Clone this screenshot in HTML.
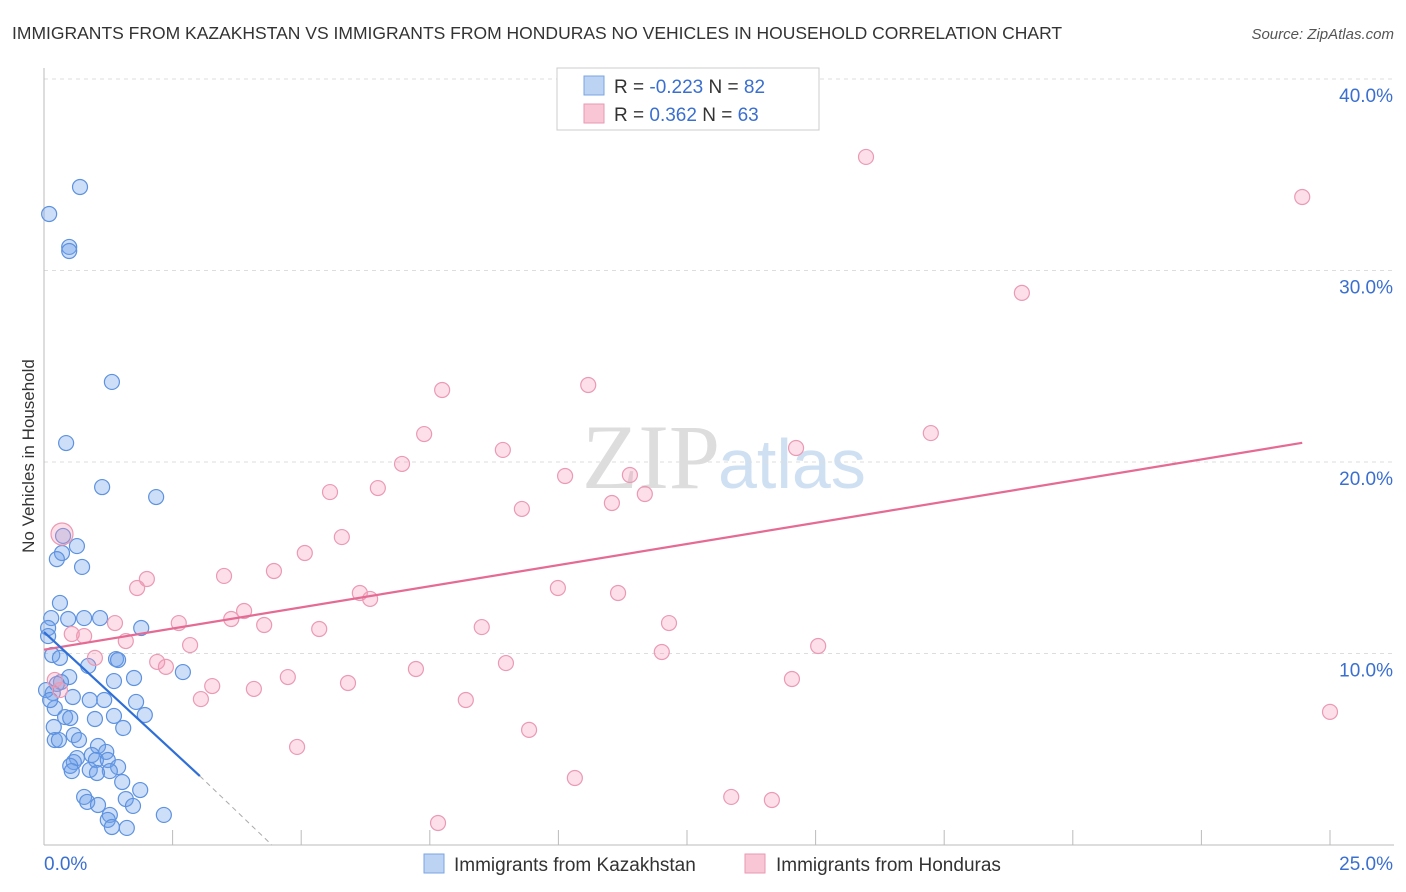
<!DOCTYPE html>
<html><head><meta charset="utf-8"><style>
body{margin:0;background:#fff;font-family:"Liberation Sans",sans-serif}
#c{position:absolute;left:0;top:0}
</style></head><body>
<svg id="c" width="1406" height="892">
<text x="12" y="39" font-size="17.5" fill="#333">IMMIGRANTS FROM KAZAKHSTAN VS IMMIGRANTS FROM HONDURAS NO VEHICLES IN HOUSEHOLD CORRELATION CHART</text>
<text x="1394" y="39" font-size="15" fill="#555" font-style="italic" text-anchor="end">Source: ZipAtlas.com</text>
<text x="34" y="456" font-size="17" fill="#333" text-anchor="middle" transform="rotate(-90 34 456)">No Vehicles in Household</text>
<text x="720" y="488" font-size="92" fill="#ddd" text-anchor="end" font-family="Liberation Serif">ZIP</text>
<text x="718" y="488" font-size="70" fill="#cfe0f3">atlas</text>
<g id="grid"></g><g id="pts"></g><g id="lines"></g>
<g>
<rect x="557" y="68" width="262" height="62" fill="#fff" stroke="#ccc"/>
<rect x="584" y="76" width="20" height="19" fill="#bcd3f3" stroke="#7aa4e0"/>
<rect x="584" y="104" width="20" height="19" fill="#f8c6d5" stroke="#e999b3"/>
<text x="614" y="93" font-size="19" fill="#333">R = <tspan fill="#3a6fd0">-0.223</tspan>   N = <tspan fill="#3a6fd0">82</tspan></text>
<text x="614" y="121" font-size="19" fill="#333">R =  <tspan fill="#3a6fd0">0.362</tspan>   N = <tspan fill="#3a6fd0">63</tspan></text>
</g>
<g>
<rect x="424" y="854" width="20" height="19" fill="#bcd3f3" stroke="#7aa4e0"/>
<text x="454" y="871" font-size="19" fill="#333">Immigrants from Kazakhstan</text>
<rect x="745" y="854" width="20" height="19" fill="#f8c6d5" stroke="#e999b3"/>
<text x="776" y="871" font-size="19" fill="#333">Immigrants from Honduras</text>
</g>
</svg>
<script>
const xTickLabels=["0.0%","25.0%"];
const yTicks=[10,20,30,40];
const kazX=[0.70,0.10,0.49,0.49,1.32,0.43,1.13,2.18,0.37,0.64,0.35,0.25,0.74,0.31,0.14,0.47,0.78,1.09,1.89,0.08,0.08,0.16,0.31,1.40,1.44,0.86,2.70,0.49,0.33,1.36,1.75,0.17,0.56,0.89,1.17,1.79,0.21,1.96,0.41,0.51,0.99,1.36,1.54,0.19,0.58,0.68,0.21,0.29,1.05,1.21,0.93,0.64,1.01,1.24,0.58,0.51,1.44,0.89,0.54,1.28,1.03,1.52,1.87,0.78,0.84,1.05,1.59,1.73,1.28,1.24,1.32,1.61,2.33,0.04,0.12,0.25];
const kazY=[34.36,32.95,31.23,31.02,24.18,20.99,18.69,18.17,16.14,15.61,15.25,14.93,14.52,12.64,11.85,11.80,11.85,11.85,11.33,11.33,10.91,9.92,9.77,9.71,9.66,9.35,9.03,8.77,8.51,8.56,8.72,7.94,7.73,7.57,7.57,7.47,7.15,6.79,6.68,6.63,6.58,6.74,6.11,6.16,5.74,5.48,5.48,5.48,5.17,4.86,4.70,4.54,4.44,4.44,4.33,4.13,4.07,3.92,3.86,3.86,3.76,3.29,2.87,2.51,2.25,2.09,2.40,2.04,1.57,1.31,0.94,0.89,1.57,8.09,7.57,8.41];
const honX=[15.98,24.46,19.01,10.58,7.74,17.24,7.39,8.92,14.62,6.96,6.49,5.56,11.39,10.13,11.68,9.29,11.04,0.35,5.79,5.07,4.47,3.50,2.00,1.81,9.99,11.16,6.14,6.34,3.89,3.64,1.38,2.62,4.28,5.35,8.51,12.15,0.54,0.78,1.59,2.84,15.05,12.01,0.99,2.20,2.37,8.98,7.23,4.74,5.91,3.27,4.08,3.05,8.20,14.54,25.00,9.43,4.92,10.32,13.36,14.15,7.66,0.21,0.31];
const honY=[35.93,33.84,28.83,24.02,23.76,21.51,21.46,20.63,20.73,19.90,18.64,18.43,19.32,19.27,18.33,17.55,17.86,16.24,16.08,15.25,14.31,14.05,13.89,13.42,13.42,13.16,13.16,12.85,12.22,11.80,11.59,11.59,11.49,11.28,11.38,11.59,11.02,10.91,10.65,10.44,10.39,10.08,9.77,9.56,9.30,9.50,9.19,8.77,8.46,8.30,8.15,7.62,7.57,8.67,6.95,6.01,5.12,3.50,2.51,2.35,1.15,8.62,8.09];
const honTrend=[[0,10.2],[24.46,21.0]];
const kazTrend=[[0,11.12],[3.03,3.60]];
const kazDash=[[3.03,3.60],[4.43,0]];
const X=v=>44+v*51.44, Y=v=>845-v*19.15;
const NS="http://www.w3.org/2000/svg";
function mk(p,t,a){const e=document.createElementNS(NS,t);for(const k in a)e.setAttribute(k,a[k]);p.appendChild(e);return e;}
const grid=document.getElementById('grid'),pts=document.getElementById('pts'),lines=document.getElementById('lines');
yTicks.forEach(t=>{
 const l=mk(grid,'line',{x1:44,x2:1394,y1:Y(t),y2:Y(t),stroke:'#ddd','stroke-dasharray':'4,4'});
 
 
 const tx=mk(grid,'text',{x:1393,y:Y(t)+23,'font-size':19,fill:'#3a6fd0','text-anchor':'end'});
 tx.textContent=t.toFixed(1)+'%';
 
 
});
mk(grid,'line',{x1:44,x2:44,y1:68,y2:845,stroke:'#bbb'});
mk(grid,'line',{x1:44,x2:1394,y1:845,y2:845,stroke:'#bbb'});
for(let i=0;i<=10;i++){const t=mk(grid,'line',{x1:X(i*2.5),x2:X(i*2.5),y1:830,y2:845,stroke:'#bbb'});
 
 }
const xl=[[44,'start',0],[1393,'end',1]];
xl.forEach(([x,a,i])=>{const t=mk(grid,'text',{x:x,y:870,'font-size':19,fill:'#3a6fd0','text-anchor':a});t.textContent=xTickLabels[i];
 
 });
kazX.forEach((v,i)=>{const c=mk(pts,'circle',{cx:X(v),cy:Y(kazY[i]),r:7.5,fill:'rgba(110,160,235,0.35)',stroke:'#5e92df','stroke-width':1.2});
 
 });
honX.forEach((v,i)=>{const c=mk(pts,'circle',{cx:X(v),cy:Y(honY[i]),r:i==17?11:7.5,fill:'rgba(244,150,180,0.3)',stroke:'#eb9ab4','stroke-width':1.2});
 
 });
function ln(d,col,w,dash,name){const l=mk(lines,'line',{x1:X(d[0][0]),y1:Y(d[0][1]),x2:X(d[1][0]),y2:Y(d[1][1]),stroke:col,'stroke-width':w});
 if(dash)l.setAttribute('stroke-dasharray',dash);
 
 }
ln(honTrend,'#e56a94',2.2,null,'honduras-trendline');
ln(kazTrend,'#2f6fd6',2.2,null,'kazakhstan-trendline');
ln(kazDash,'#aaa',1,'5,4','kazakhstan-trendline-extension');
</script>
</body></html>
